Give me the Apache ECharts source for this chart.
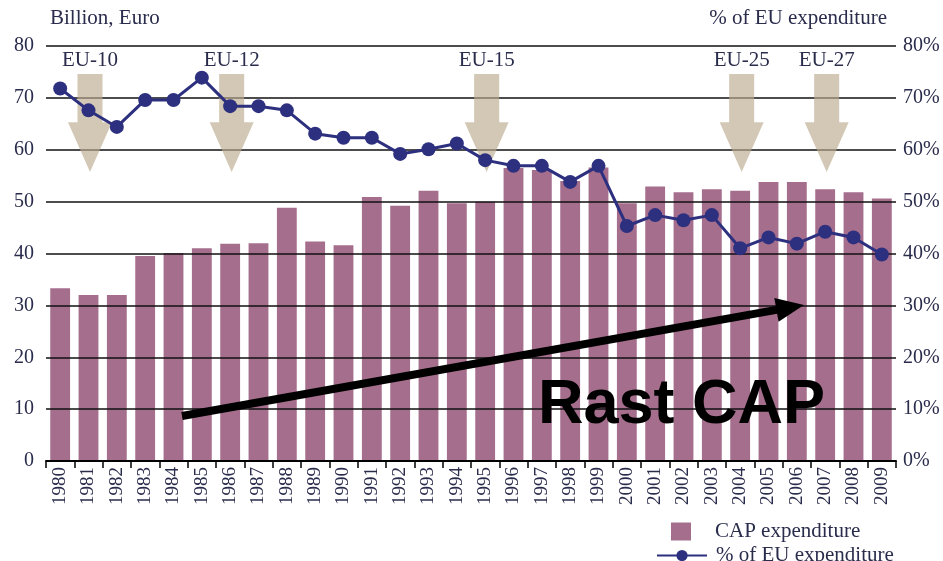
<!DOCTYPE html>
<html>
<head>
<meta charset="utf-8">
<script src="https://cdn.jsdelivr.net/npm/echarts@6/dist/echarts.min.js"></script>
<style>html,body{margin:0;padding:0;background:#fff}#c{width:943px;height:561px}</style>
</head>
<body>
<div id="c"></div>
<script>
const years = ['1980','1981','1982','1983','1984','1985','1986','1987','1988','1989','1990','1991','1992','1993','1994','1995','1996','1997','1998','1999','2000','2001','2002','2003','2004','2005','2006','2007','2008','2009'];
const capExpenditure = [33.3, 32.0, 32.0, 39.5, 40.1, 41.0, 41.9, 42.0, 48.8, 42.3, 41.6, 50.9, 49.2, 52.1, 49.7, 50.0, 56.5, 56.1, 54.0, 56.6, 49.7, 52.9, 51.8, 52.4, 52.1, 53.8, 53.8, 52.4, 51.8, 50.6];
const shareOfEU = [71.8, 67.6, 64.4, 69.6, 69.6, 73.9, 68.4, 68.4, 67.6, 63.1, 62.3, 62.3, 59.2, 60.1, 61.2, 58.0, 56.9, 56.9, 53.8, 56.9, 45.3, 47.4, 46.4, 47.4, 41.0, 43.1, 41.9, 44.2, 43.1, 39.8];
const enlargements = [['1981','EU-10'],['1986','EU-12'],['1995','EU-15'],['2004','EU-25'],['2007','EU-27']];
const leftTicks = [0,10,20,30,40,50,60,70,80];

const serif = '"Liberation Serif", "DejaVu Serif", serif';
const txt = '#2a2c4c';

const chart = echarts.init(document.getElementById('c'), null, {renderer:'canvas'});

function trendArrow(x1, y1, x2, y2, w, hl, hw) {
  const dx = x2 - x1, dy = y2 - y1, L = Math.sqrt(dx*dx + dy*dy);
  const ux = dx / L, uy = dy / L, px = -uy, py = ux;
  const bx = x2 - ux * hl, by = y2 - uy * hl;
  return [
    [x1 + px*w/2, y1 + py*w/2],
    [bx + px*w/2, by + py*w/2],
    [bx + px*hw, by + py*hw],
    [x2, y2],
    [bx - px*hw, by - py*hw],
    [bx - px*w/2, by - py*w/2],
    [x1 - px*w/2, y1 - py*w/2]
  ];
}

const option = {
  animation: false,
  grid: {left: 46, right: 47, top: 46, bottom: 100, containLabel: false},
  xAxis: {
    type: 'category',
    data: years,
    z: 3,
    axisLine: {lineStyle: {color: '#000', width: 2}},
    axisTick: {show: true, alignWithLabel: false, length: 7, lineStyle: {color: '#000', width: 1.5}},
    axisLabel: {rotate: 90, margin: 6, color: txt, fontFamily: serif, fontSize: 19, interval: 0}
  },
  yAxis: [
    {
      type: 'value', min: 0, max: 80, interval: 10, z: 3,
      axisLine: {show: false}, axisTick: {show: false},
      axisLabel: {margin: 12, color: txt, fontFamily: serif, fontSize: 20},
      splitLine: {show: true, lineStyle: {color: '#111', width: 1.6}}
    },
    {
      type: 'value', min: 0, max: 80, interval: 10, z: 3,
      axisLine: {show: false}, axisTick: {show: false},
      axisLabel: {margin: 7, color: txt, fontFamily: serif, fontSize: 20, formatter: '{value}%'},
      splitLine: {show: false}
    }
  ],
  legend: [
    {
      data: [{name: 'CAP expenditure', icon: 'rect'}], left: 666, top: 516, itemWidth: 20, itemHeight: 18,
      textStyle: {fontFamily: serif, fontSize: 21, color: txt, padding: [0,0,0,19]}
    },
    {
      data: ['% of EU expenditure'], left: 651, top: 540, itemWidth: 50, itemHeight: 14,
      textStyle: {fontFamily: serif, fontSize: 21, color: txt, padding: [0,0,0,4]}
    }
  ],
  series: [
    {
      name: 'CAP expenditure',
      type: 'bar',
      data: capExpenditure,
      barWidth: '70%',
      itemStyle: {color: '#a56e8c'},
      z: 2
    },
    {
      name: 'enlargement',
      type: 'custom',
      data: enlargements,
      encode: {x: 0},
      z: 3,
      renderItem: function (params, api) {
        const idx = api.value(0);
        const top = api.coord([idx, 74.6]);
        const neck = api.coord([idx, 65.3]);
        const tip = api.coord([idx, 55.7]);
        const lab = api.coord([idx, 77.2]);
        const x = top[0] + 1.5;
        const sw = 12.5, hw = 22;
        return {
          type: 'group',
          children: [
            {
              type: 'polygon',
              shape: {points: [[x-sw, top[1]], [x+sw, top[1]], [x+sw, neck[1]], [x+hw, neck[1]], [x, tip[1]], [x-hw, neck[1]], [x-sw, neck[1]]]},
              style: {fill: 'rgba(188,172,142,0.66)'}
            },
            {
              type: 'text',
              style: {text: enlargements[params.dataIndex][1], x: x, y: lab[1], align: 'center', verticalAlign: 'middle',
                      font: '21px ' + serif, fill: txt}
            }
          ]
        };
      }
    },
    {
      name: '% of EU expenditure',
      type: 'line',
      yAxisIndex: 1,
      data: shareOfEU,
      symbol: 'circle',
      symbolSize: 14,
      lineStyle: {color: '#2d2f7f', width: 3},
      itemStyle: {color: '#2d2f7f'},
      z: 4
    }
  ],
  graphic: [
    {type: 'text', left: 50, top: 8, z: 10, style: {text: 'Billion, Euro', font: '21px ' + serif, fill: txt}},
    {type: 'text', right: 56, top: 8, z: 10, style: {text: '% of EU expenditure', font: '21px ' + serif, fill: txt}},
    {type: 'polygon', z: 10, shape: {points: trendArrow(182, 416, 804, 305, 8, 28, 12)}, style: {fill: '#000'}},
    {type: 'text', z: 10, style: {text: 'Rast CAP', x: 538, y: 406, verticalAlign: 'middle', font: 'bold 63px "Liberation Sans", Arial, sans-serif', fill: '#000'}}
  ]
};
chart.setOption(option);
</script>
</body>
</html>
